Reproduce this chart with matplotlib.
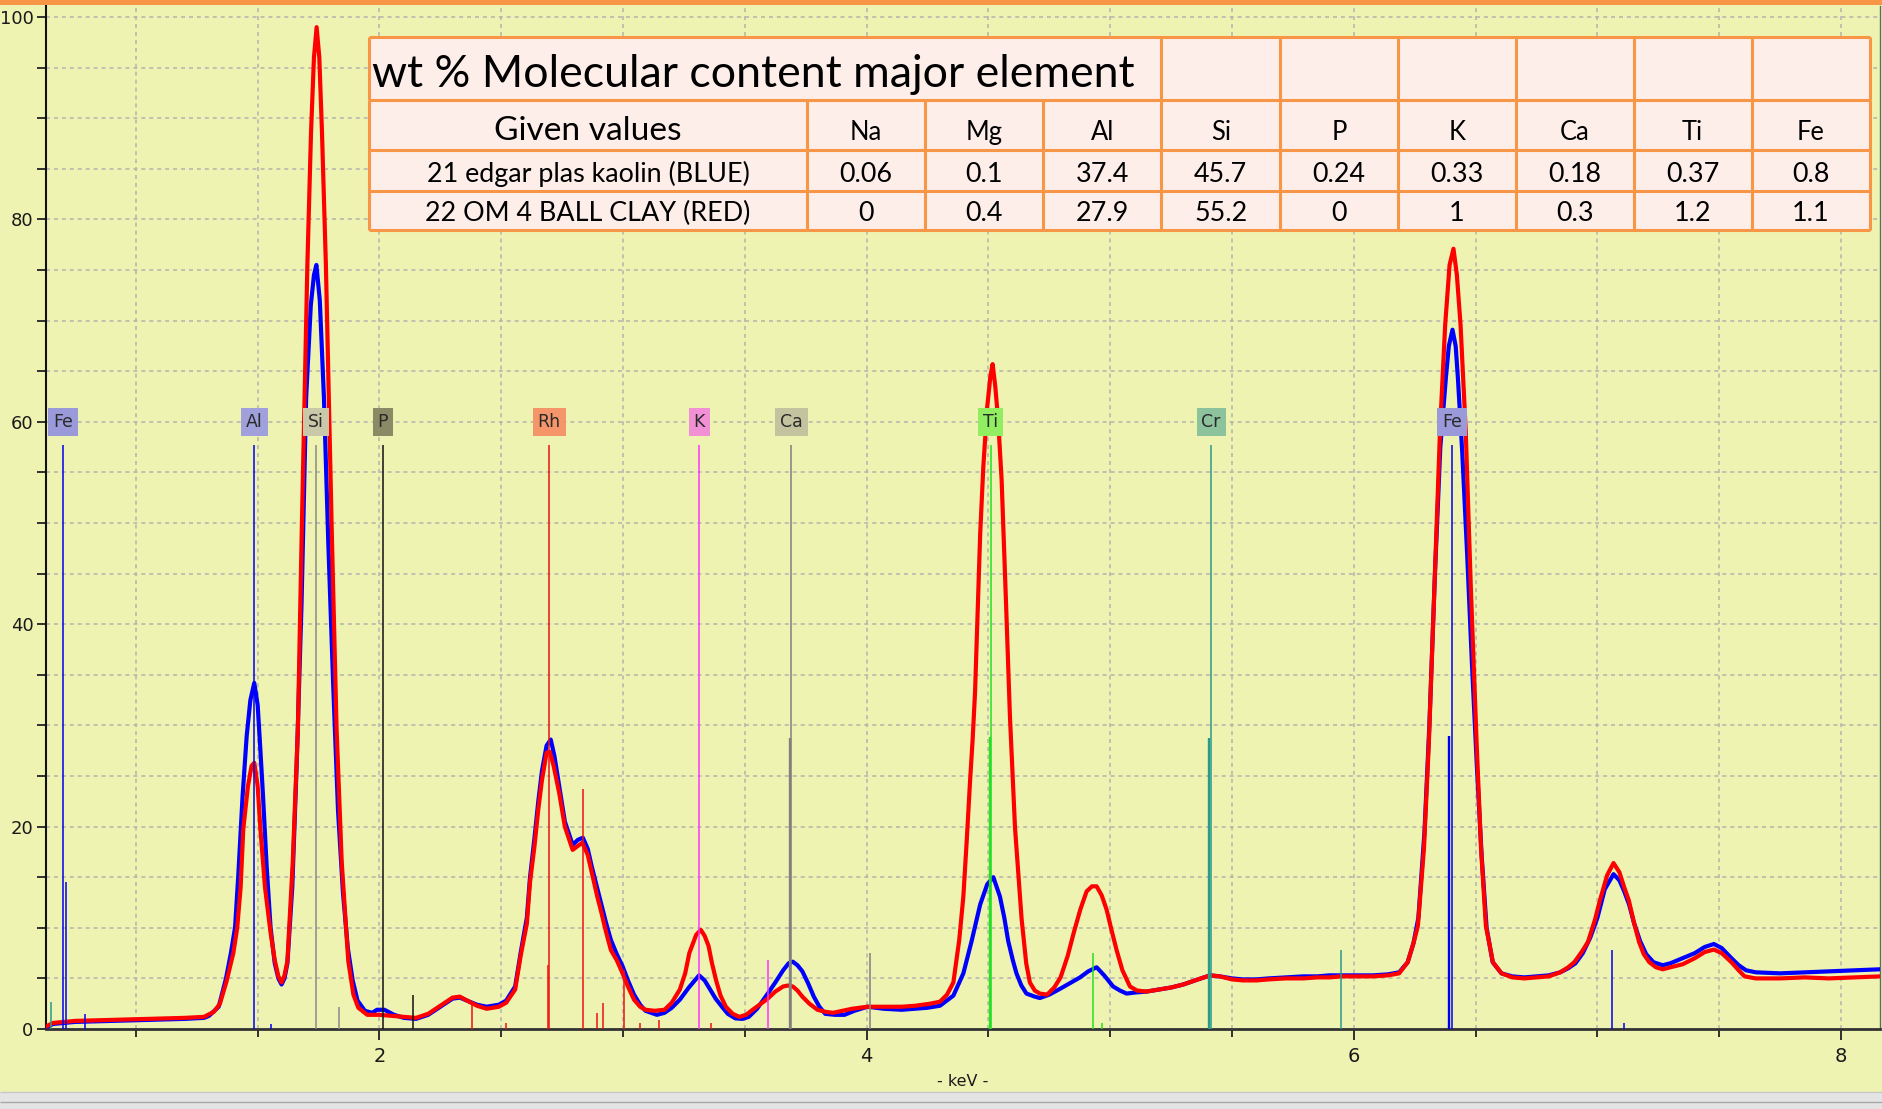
"""
EDS spectrum overlay: kaolin (blue) vs ball clay (red) with element markers
and a composition table on top.
"""

import numpy as np
import matplotlib
matplotlib.use('Agg')
import matplotlib.pyplot as plt
from matplotlib.patches import Rectangle
from matplotlib.ticker import MultipleLocator

plt.rcParams['font.family'] = ['Liberation Sans Narrow', 'DejaVu Sans']

# ---- spectra (keV, counts) ----
red_spectrum = np.array([
    (0.635, 0.3), (0.66, 0.6), (0.75, 0.8), (0.90, 0.9), (1.05, 1.0), (1.20, 1.1),
    (1.28, 1.2), (1.32, 1.7), (1.345, 2.5), (1.372, 4.7), (1.40, 7.5), (1.416, 10.0),
    (1.43, 14.0), (1.441, 19.8), (1.46, 24.0), (1.475, 26.0), (1.486, 26.3), (1.50, 24.0),
    (1.511, 19.8), (1.53, 14.0), (1.553, 9.5), (1.57, 6.8), (1.585, 5.2), (1.598, 4.6),
    (1.61, 5.3), (1.622, 6.7), (1.644, 16.5), (1.665, 29.6), (1.681, 49.3), (1.704, 75.5),
    (1.719, 88.6), (1.731, 96.0), (1.742, 99.0), (1.753, 96.0), (1.764, 88.6), (1.780, 75.5),
    (1.804, 49.3), (1.824, 29.6), (1.845, 16.5), (1.872, 6.7), (1.893, 3.4), (1.913, 2.1),
    (1.95, 1.4), (2.00, 1.4), (2.05, 1.3), (2.10, 1.2), (2.15, 1.1), (2.20, 1.5),
    (2.25, 2.3), (2.30, 3.1), (2.33, 3.2), (2.36, 2.8), (2.40, 2.3), (2.44, 2.0),
    (2.49, 2.2), (2.52, 2.6), (2.557, 3.9), (2.58, 7.3), (2.605, 10.4), (2.618, 14.5),
    (2.636, 18.0), (2.652, 21.7), (2.667, 24.6), (2.686, 27.3), (2.699, 27.4), (2.715, 26.0),
    (2.738, 23.3), (2.761, 20.0), (2.793, 17.7), (2.815, 18.1), (2.833, 18.4), (2.855, 17.2),
    (2.872, 15.4), (2.895, 13.0), (2.911, 11.5), (2.93, 9.6), (2.95, 7.8), (2.974, 6.8),
    (2.998, 5.5), (3.02, 4.2), (3.045, 2.9), (3.07, 2.2), (3.092, 1.9), (3.13, 1.8),
    (3.17, 1.9), (3.20, 2.6), (3.233, 3.9), (3.255, 5.5), (3.272, 7.5), (3.30, 9.3),
    (3.319, 9.8), (3.335, 9.2), (3.351, 8.2), (3.365, 6.5), (3.382, 4.8), (3.40, 3.3),
    (3.422, 2.2), (3.45, 1.5), (3.477, 1.2), (3.505, 1.4), (3.532, 1.9), (3.56, 2.4),
    (3.594, 3.0), (3.625, 3.7), (3.657, 4.2), (3.677, 4.3), (3.697, 4.2), (3.716, 3.8),
    (3.736, 3.2), (3.765, 2.5), (3.798, 1.9), (3.83, 1.7), (3.862, 1.6), (3.90, 1.8),
    (3.94, 2.0), (4.003, 2.2), (4.07, 2.2), (4.144, 2.2), (4.20, 2.3), (4.26, 2.5),
    (4.301, 2.7), (4.33, 3.4), (4.356, 4.6), (4.38, 8.8), (4.397, 13.1), (4.411, 18.7),
    (4.424, 24.3), (4.435, 28.6), (4.445, 33.3), (4.466, 48.9), (4.479, 55.6), (4.495, 61.5),
    (4.508, 64.5), (4.517, 65.7), (4.528, 63.5), (4.540, 60.1), (4.554, 54.3), (4.572, 42.2),
    (4.588, 31.0), (4.609, 19.9), (4.636, 10.9), (4.655, 6.5), (4.67, 4.6), (4.69, 3.8),
    (4.711, 3.5), (4.741, 3.4), (4.77, 4.1), (4.796, 5.1), (4.825, 7.2), (4.85, 9.5),
    (4.877, 11.8), (4.903, 13.6), (4.925, 14.1), (4.944, 14.1), (4.965, 13.2), (4.985, 11.8),
    (5.005, 9.8), (5.026, 7.8), (5.05, 5.8), (5.081, 4.2), (5.11, 3.8), (5.149, 3.7),
    (5.20, 3.9), (5.25, 4.1), (5.30, 4.4), (5.36, 4.9), (5.41, 5.3), (5.45, 5.2),
    (5.50, 4.9), (5.545, 4.8), (5.60, 4.8), (5.65, 4.9), (5.72, 5.0), (5.793, 5.0),
    (5.85, 5.1), (5.90, 5.1), (5.95, 5.2), (6.008, 5.2), (6.08, 5.2), (6.14, 5.3),
    (6.186, 5.5), (6.221, 6.6), (6.245, 8.5), (6.263, 10.2), (6.288, 17.9), (6.308, 28.3),
    (6.331, 43.8), (6.354, 59.3), (6.375, 69.6), (6.393, 75.5), (6.409, 77.1), (6.423, 74.5),
    (6.438, 69.6), (6.459, 59.3), (6.48, 43.8), (6.504, 28.3), (6.522, 17.9), (6.542, 10.2),
    (6.571, 6.6), (6.606, 5.5), (6.65, 5.1), (6.70, 5.0), (6.75, 5.1), (6.80, 5.2),
    (6.847, 5.6), (6.88, 6.1), (6.905, 6.6), (6.935, 7.6), (6.961, 8.6), (6.99, 10.8),
    (7.010, 12.7), (7.04, 15.2), (7.066, 16.4), (7.09, 15.5), (7.11, 14.0), (7.129, 12.7),
    (7.15, 10.5), (7.171, 8.6), (7.19, 7.4), (7.213, 6.6), (7.24, 6.1), (7.268, 5.9),
    (7.30, 6.1), (7.35, 6.4), (7.40, 7.0), (7.44, 7.6), (7.478, 7.85), (7.51, 7.5),
    (7.55, 6.6), (7.58, 5.8), (7.604, 5.2), (7.65, 5.0), (7.75, 5.0), (7.85, 5.1),
    (7.95, 5.0), (8.05, 5.1), (8.16, 5.2),
])

blue_spectrum = np.array([
    (0.635, 0.2), (0.66, 0.5), (0.75, 0.7), (0.90, 0.8), (1.05, 0.9), (1.20, 1.0),
    (1.28, 1.1), (1.30, 1.3), (1.34, 2.2), (1.37, 5.0), (1.39, 7.5), (1.407, 10.0),
    (1.42, 15.0), (1.438, 23.0), (1.455, 29.0), (1.47, 32.5), (1.486, 34.2), (1.50, 32.0),
    (1.51, 28.0), (1.522, 23.0), (1.537, 16.0), (1.553, 10.0), (1.57, 6.5), (1.585, 5.0),
    (1.598, 4.4), (1.61, 5.0), (1.622, 6.5), (1.642, 14.0), (1.66, 26.0), (1.68, 42.0),
    (1.699, 62.4), (1.718, 71.5), (1.731, 74.5), (1.741, 75.5), (1.755, 72.0), (1.772, 62.4),
    (1.79, 48.0), (1.81, 34.0), (1.83, 21.5), (1.85, 13.5), (1.87, 8.0), (1.89, 4.8),
    (1.91, 2.8), (1.94, 1.8), (1.97, 1.6), (1.99, 1.9), (2.02, 1.9), (2.06, 1.4),
    (2.10, 1.1), (2.15, 1.0), (2.20, 1.4), (2.25, 2.2), (2.30, 3.0), (2.33, 3.1),
    (2.36, 2.8), (2.40, 2.4), (2.44, 2.2), (2.49, 2.4), (2.52, 2.8), (2.557, 4.2),
    (2.58, 7.6), (2.605, 11.0), (2.618, 15.0), (2.636, 18.8), (2.652, 22.5), (2.667, 25.5),
    (2.686, 28.0), (2.703, 28.6), (2.718, 27.0), (2.738, 24.0), (2.761, 20.5), (2.793, 18.2),
    (2.815, 18.7), (2.835, 18.9), (2.855, 17.8), (2.872, 16.0), (2.895, 13.8), (2.911, 12.3),
    (2.93, 10.5), (2.95, 8.8), (2.974, 7.4), (2.998, 6.2), (3.02, 4.8), (3.045, 3.4),
    (3.07, 2.4), (3.092, 1.8), (3.139, 1.4), (3.17, 1.6), (3.20, 2.1), (3.233, 2.9),
    (3.27, 4.1), (3.312, 5.3), (3.335, 4.8), (3.359, 3.85), (3.38, 3.0), (3.406, 2.2),
    (3.43, 1.5), (3.461, 1.05), (3.49, 1.0), (3.516, 1.2), (3.55, 2.0), (3.594, 3.5),
    (3.625, 4.6), (3.657, 5.8), (3.68, 6.5), (3.697, 6.65), (3.716, 6.3), (3.736, 5.7),
    (3.76, 4.5), (3.783, 3.2), (3.806, 2.2), (3.83, 1.5), (3.87, 1.4), (3.909, 1.4),
    (3.95, 1.8), (4.003, 2.2), (4.07, 2.0), (4.144, 1.9), (4.20, 2.0), (4.25, 2.1),
    (4.301, 2.3), (4.356, 3.3), (4.397, 5.5), (4.431, 8.7), (4.466, 12.3), (4.495, 14.3),
    (4.52, 15.0), (4.547, 13.1), (4.565, 11.0), (4.581, 8.7), (4.60, 6.8), (4.615, 5.5),
    (4.635, 4.3), (4.656, 3.5), (4.69, 3.2), (4.711, 3.06), (4.75, 3.4), (4.796, 4.0),
    (4.84, 4.6), (4.876, 5.1), (4.91, 5.7), (4.944, 6.1), (4.975, 5.3), (5.012, 4.2),
    (5.04, 3.8), (5.067, 3.5), (5.10, 3.6), (5.149, 3.7), (5.20, 3.9), (5.25, 4.1),
    (5.30, 4.4), (5.36, 4.9), (5.41, 5.3), (5.45, 5.2), (5.50, 5.0), (5.545, 4.9),
    (5.60, 4.9), (5.65, 5.0), (5.72, 5.1), (5.793, 5.2), (5.85, 5.2), (5.90, 5.3),
    (5.95, 5.3), (6.008, 5.3), (6.08, 5.3), (6.14, 5.4), (6.186, 5.6), (6.221, 6.6),
    (6.245, 8.5), (6.265, 11.0), (6.29, 19.5), (6.31, 30.0), (6.333, 45.0), (6.355, 57.5),
    (6.378, 64.4), (6.39, 67.5), (6.405, 69.1), (6.418, 67.5), (6.427, 64.4), (6.445, 57.0),
    (6.465, 47.0), (6.485, 36.0), (6.505, 26.0), (6.525, 17.0), (6.545, 10.0), (6.57, 6.6),
    (6.606, 5.5), (6.65, 5.2), (6.70, 5.1), (6.75, 5.2), (6.80, 5.3), (6.847, 5.6),
    (6.88, 6.0), (6.91, 6.5), (6.94, 7.5), (6.97, 9.0), (7.00, 11.0), (7.03, 13.8),
    (7.066, 15.3), (7.09, 14.7), (7.11, 13.6), (7.13, 12.3), (7.15, 10.5), (7.175, 8.7),
    (7.20, 7.4), (7.23, 6.6), (7.268, 6.3), (7.30, 6.5), (7.35, 7.0), (7.40, 7.5),
    (7.44, 8.1), (7.478, 8.4), (7.51, 8.0), (7.55, 7.0), (7.58, 6.3), (7.61, 5.8),
    (7.65, 5.6), (7.75, 5.5), (7.85, 5.6), (7.95, 5.7), (8.05, 5.8), (8.16, 5.9),
])

# ---- element markers ----
marker_names = ['Fe', 'Al', 'Si', 'P', 'Rh', 'K', 'Ca', 'Ti', 'Cr', 'Fe']
marker_kev = [0.700, 1.486, 1.740, 2.013, 2.697, 3.313, 3.691, 4.510, 5.414, 6.403]
marker_level = 60.0      # label height on the count axis
marker_line_top = 57.7

# secondary emission lines: (keV, height, element)
extra_lines = [
    (0.712, 14.5, 'Fe'), (0.650, 2.7, 'Cr'), (0.791, 1.5, 'Fe'),
    (1.555, 0.5, 'Al'), (1.834, 2.2, 'Si'), (2.139, 3.4, 'P'),
    (2.692, 6.3, 'Rh'), (2.837, 23.7, 'Rh'), (2.378, 2.4, 'Rh'), (2.518, 0.6, 'Rh'),
    (2.892, 1.6, 'Rh'), (2.916, 2.6, 'Rh'), (3.002, 5.8, 'Rh'), (3.068, 0.6, 'Rh'),
    (3.147, 0.9, 'Rh'), (3.363, 0.6, 'Rh'),
    (3.594, 6.8, 'K'), (4.013, 7.5, 'Ca'),
    (4.931, 7.5, 'Ti'), (4.965, 0.6, 'Ti'),
    (5.947, 7.8, 'Cr'), (7.058, 7.85, 'Fe'), (7.110, 0.6, 'Fe'),
]
# strong alpha lines drawn thicker
strong_lines = [(3.687, 28.8, 'Ca'), (4.506, 28.9, 'Ti'), (5.407, 28.8, 'Cr'), (6.391, 29.0, 'Fe')]

# ---- composition table ----
table_title = 'wt % Molecular content major element'
table_header = 'Given values'
table_elements = ['Na', 'Mg', 'Al', 'Si', 'P', 'K', 'Ca', 'Ti', 'Fe']
sample_names = ['21 edgar plas kaolin (BLUE)', '22 OM 4 BALL CLAY (RED)']
kaolin_values = ['0.06', '0.1', '37.4', '45.7', '0.24', '0.33', '0.18', '0.37', '0.8']
ballclay_values = ['0', '0.4', '27.9', '55.2', '0', '1', '0.3', '1.2', '1.1']

# styles
BG = '#EFF3B1'
ORANGE = '#F79646'
CELL = '#FDEEEA'
box_colors = {'Fe': '#9A9ADA', 'Al': '#A0A0DC', 'Si': '#C9C9A9', 'P': '#8A8A66',
              'Rh': '#F5966A', 'K': '#F290D6', 'Ca': '#C3C39F', 'Ti': '#90EE60',
              'Cr': '#8CC29C'}
line_colors = {'Fe': '#0000EE', 'Al': '#0000EE', 'Si': '#8A8A8A', 'P': '#111111',
               'Rh': '#EE1111', 'K': '#FF33FF', 'Ca': '#808080', 'Ti': '#22E022',
               'Cr': '#2A9A8A'}

W, H = 1883, 1109


def fit_width(txt, target, renderer):
    bb = txt.get_window_extent(renderer=renderer)
    txt.set_fontsize(txt.get_fontsize() * target / bb.width)


def main():
    fig = plt.figure(figsize=(W / 100, H / 100), dpi=100)
    fig.patch.set_facecolor(BG)

    # plot area in pixels: x 46..1880, y(0) at 1029, top at 6
    ax = fig.add_axes([46 / W, 80 / H, (1880 - 46) / W, (1103 - 80) / H])
    ax.set_facecolor(BG)
    ax.set_xlim(0.631, 8.160)
    ax.set_ylim(0, 101.09)

    # grid
    ax.xaxis.set_major_locator(MultipleLocator(2))
    ax.xaxis.set_minor_locator(MultipleLocator(0.5))
    ax.yaxis.set_major_locator(MultipleLocator(20))
    ax.yaxis.set_minor_locator(MultipleLocator(5))
    ax.set_axisbelow(True)
    ax.grid(True, which='both', linestyle=(0, (2.6, 2.6)), color='#B4B4AC', lw=1.1)

    # spectra
    ax.plot(blue_spectrum[:, 0], blue_spectrum[:, 1], color='#0000FF', lw=3.0, zorder=3)
    ax.plot(red_spectrum[:, 0], red_spectrum[:, 1], color='#FF0000', lw=3.0, zorder=4)

    # emission lines
    for kev, h, el in extra_lines:
        ax.vlines(kev, 0, h, color=line_colors[el], lw=1.1, zorder=5)
    for kev, h, el in strong_lines:
        ax.vlines(kev, 0, h, color=line_colors[el], lw=1.7, zorder=5)
    for name, kev in zip(marker_names, marker_kev):
        ax.vlines(kev, 0, marker_line_top, color=line_colors[name], lw=1.1, zorder=5)
        ax.text(kev, marker_level, name, ha='center', va='center', fontsize=12.5,
                color='#2A2A2A', zorder=6,
                bbox=dict(boxstyle='square,pad=0.28', fc=box_colors[name], ec='none'))

    # axes styling
    ax.spines['top'].set_visible(False)
    ax.spines['left'].set_color('#111111')
    ax.spines['left'].set_linewidth(1.5)
    ax.spines['bottom'].set_color('#333333')
    ax.spines['bottom'].set_linewidth(2.0)
    ax.spines['right'].set_color('#666666')
    ax.spines['right'].set_linewidth(1.0)
    ax.tick_params(axis='y', which='both', direction='out', length=6.5, width=1.3,
                   color='#222222', labelsize=13, labelcolor='#1A1A1A', pad=2.5)
    ax.tick_params(axis='x', which='major', direction='out', length=8, width=1.3,
                   color='#222222', labelsize=14, labelcolor='#1A1A1A', pad=5)
    ax.tick_params(axis='x', which='minor', direction='out', length=5.5, width=1.3,
                   color='#222222')
    ax.set_xticks([2, 4, 6, 8])
    ax.set_yticks([0, 20, 40, 60, 80, 100])
    fig.text(963 / W, 1 - 1081 / H, '- keV -', ha='center', va='center',
             fontsize=11.5, color='#1A1A1A')

    # overlay in pixel coordinates for frame bits and the table
    ov = fig.add_axes([0, 0, 1, 1], zorder=10)
    ov.set_xlim(0, W)
    ov.set_ylim(H, 0)
    ov.axis('off')
    ov.patch.set_alpha(0)

    ov.add_patch(Rectangle((0, 0), W, 5, fc=ORANGE, ec='none'))
    ov.add_patch(Rectangle((0, 1092), W, H - 1092, fc='#E4E4E4', ec='none'))
    ov.hlines([1092, 1102], 0, W, colors=['#C8C8C8', '#A8A8A8'], lw=1.0)

    cols = [368.7, 807.2, 925.0, 1043.0, 1161.5, 1280.1, 1397.9, 1515.9, 1633.6, 1751.9, 1869.9]
    rows = [37.3, 100.0, 150.0, 191.0, 230.3]
    tfont = ['Lato', 'DejaVu Sans']

    ov.add_patch(Rectangle((cols[0], rows[0]), cols[-1] - cols[0], rows[-1] - rows[0],
                           fc=CELL, ec='none'))
    lw_t = 2.2
    ov.hlines(rows, cols[0], cols[-1], colors=ORANGE, lw=lw_t)
    # title row merges the first four columns
    ov.vlines([cols[0], cols[4], cols[5], cols[6], cols[7], cols[8], cols[9], cols[10]],
              rows[0], rows[1], colors=ORANGE, lw=lw_t)
    ov.vlines(cols, rows[1], rows[-1], colors=ORANGE, lw=lw_t)

    renderer = fig.canvas.get_renderer()
    t_title = ov.text(372, 87, table_title, ha='left', va='baseline', fontsize=28,
                      family=tfont, color='black')
    fit_width(t_title, 763, renderer)

    first_mid = (cols[0] + cols[1]) / 2
    t_head = ov.text(first_mid, 140, table_header, ha='center', va='baseline',
                     fontsize=20, family=tfont, color='black')
    fit_width(t_head, 188, renderer)

    t_row = ov.text(first_mid, 181.7, sample_names[0], ha='center', va='baseline',
                    fontsize=17, family=tfont, color='black')
    fit_width(t_row, 322, renderer)
    fs = t_row.get_fontsize()
    ov.text(first_mid, 220.7, sample_names[1], ha='center', va='baseline',
            fontsize=fs, family=tfont, color='black')

    for i, el in enumerate(table_elements):
        cx = (cols[i + 1] + cols[i + 2]) / 2
        ov.text(cx, 140, el, ha='center', va='baseline', fontsize=fs * 0.95,
                family=tfont, color='black')
        ov.text(cx, 181.7, kaolin_values[i], ha='center', va='baseline', fontsize=fs,
                family=tfont, color='black')
        ov.text(cx, 220.7, ballclay_values[i], ha='center', va='baseline', fontsize=fs,
                family=tfont, color='black')

    fig.savefig('out.png', dpi=100, facecolor=fig.get_facecolor())


if __name__ == "__main__":
    main()
